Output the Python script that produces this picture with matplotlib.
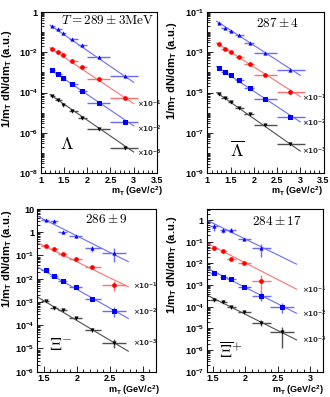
import numpy as np
import matplotlib
matplotlib.use("Agg")
import matplotlib.pyplot as plt
from matplotlib.ticker import FixedLocator, MultipleLocator, FuncFormatter, NullFormatter

plt.rcParams['font.family'] = ['Liberation Sans', 'DejaVu Sans']
plt.rcParams['font.weight'] = 'bold'
plt.rcParams['mathtext.fontset'] = 'custom'
plt.rcParams['mathtext.rm'] = 'Liberation Sans:bold'
plt.rcParams['mathtext.bf'] = 'Liberation Sans:bold'
plt.rcParams['mathtext.it'] = 'Liberation Sans:bold:italic'

# ---- Lambda ----
lam_mt = [1.24, 1.37, 1.49, 1.68, 1.89, 2.25, 2.81]
lam_lo = [1.2, 1.3, 1.45, 1.6, 1.8, 2.0, 2.5]
lam_hi = [1.3, 1.45, 1.55, 1.8, 2.0, 2.5, 3.1]
lam_a = [2.0e-1, 1.38e-1, 8.7e-2, 4.7e-2, 2.3e-2, 6.0e-3, 6.6e-4]
lam_b = [1.45e-2, 1.0e-2, 7.1e-3, 3.6e-3, 1.8e-3, 4.7e-4, 5.5e-5]
lam_c = [1.26e-3, 7.9e-4, 5.4e-4, 2.7e-4, 1.2e-4, 2.9e-5, 3.5e-6]
lam_d = [6.9e-5, 4.2e-5, 2.5e-5, 1.17e-5, 5.5e-6, 1.5e-6, 1.8e-7]
lam_err = [0.05, 0.05, 0.05, 0.06, 0.08, 0.1, 0.15]
lam_fit_mt = [1.2, 3.0]
lam_fit = [[2.24e-1, 3.2e-4], [1.66e-2, 2.8e-5], [1.41e-3, 2.2e-6], [7.9e-5, 1.1e-7]]

# ---- anti-Lambda ----
alam_mt = [1.25, 1.39, 1.5, 1.69, 1.92, 2.24, 2.78]
alam_lo = [1.2, 1.3, 1.45, 1.6, 1.8, 2.0, 2.5]
alam_hi = [1.3, 1.45, 1.55, 1.8, 2.0, 2.5, 3.1]
alam_a = [2.75e-2, 1.5e-2, 1.15e-2, 6.8e-3, 2.95e-3, 9.3e-4, 1.29e-4]
alam_b = [2.5e-3, 1.38e-3, 1.05e-3, 5.75e-4, 2.5e-4, 7.1e-5, 1.02e-5]
alam_c = [1.58e-4, 1.02e-4, 7.4e-5, 4.0e-5, 1.62e-5, 4.9e-6, 5.9e-7]
alam_d = [8.5e-6, 5.5e-6, 3.2e-6, 1.78e-6, 8.3e-7, 2.4e-7, 2.8e-8]
alam_err = [0.05, 0.05, 0.05, 0.06, 0.08, 0.1, 0.15]
alam_fit_mt = [1.2, 3.0]
alam_fit = [[3.4e-2, 7.1e-5], [2.8e-3, 6.3e-6], [1.9e-4, 3.5e-7], [1.0e-5, 1.26e-8]]

# ---- Xi- ----
xi_mt = [1.53, 1.65, 1.79, 1.98, 2.23, 2.56]
xi_lo = [1.45, 1.6, 1.72, 1.88, 2.12, 2.38]
xi_hi = [1.58, 1.72, 1.85, 2.08, 2.37, 2.75]
xi_a = [3.4, 2.95, 1.02, 0.71, 0.2, 0.13]
xi_b = [0.25, 0.19, 0.115, 0.069, 0.031, 5.5e-3]
xi_c = [2.3e-2, 1.26e-2, 7.9e-3, 4.4e-3, 1.35e-3, 4.0e-4]
xi_d = [1.12e-3, 5.75e-4, 4.5e-4, 2.1e-4, 6.5e-5, 1.74e-5]
xi_err = [[0.1, 0.1, 0.15, 0.1, 0.3, 0.6],
          [0.08, 0.08, 0.08, 0.08, 0.1, 0.45],
          [0.06, 0.06, 0.06, 0.06, 0.1, 0.45],
          [0.1, 0.1, 0.1, 0.1, 0.2, 0.4]]
xi_fit_mt = [1.4, 2.78]
xi_fit = [[5.0, 5.4e-2], [0.36, 4.5e-3], [3.2e-2, 1.95e-4], [1.66e-3, 7.6e-6]]

# ---- anti-Xi+ ----
axi_mt = [1.52, 1.66, 1.78, 1.98, 2.24, 2.57]
axi_lo = [1.45, 1.6, 1.72, 1.88, 2.1, 2.38]
axi_hi = [1.58, 1.72, 1.85, 2.08, 2.4, 2.75]
axi_a = [0.51, 0.34, 0.36, 0.135, 0.051]
axi_b = [5.1e-2, 3.6e-2, 1.58e-2, 1.05e-2, 1.58e-3]
axi_c = [3.8e-3, 2.35e-3, 1.95e-3, 8.1e-4, 3.3e-4, 1.02e-4]
axi_d = [1.95e-4, 1.74e-4, 9.5e-5, 5.6e-5, 1.86e-5, 6.5e-6]
axi_err = [[0.35, 0.25, 0.25, 0.12, 0.6],
           [0.15, 0.12, 0.2, 0.15, 0.85],
           [0.1, 0.08, 0.1, 0.1, 0.45, 0.5],
           [0.1, 0.15, 0.15, 0.1, 0.3, 0.8]]
axi_fit_mt = [1.4, 2.79]
axi_fit = [[1.0, 9.3e-3], [8.7e-2, 6.5e-4], [6.2e-3, 5.0e-5], [3.5e-4, 2.95e-6]]

temps = [r'$T = 289 \pm 3\mathrm{MeV}$', r'$287 \pm 4$', r'$286 \pm 9$', r'$284 \pm 17$']
names = [r'$\Lambda$', r'$\overline{\Lambda}$', r'$\Xi^{-}$', r'$\overline{\Xi}^{+}$']
scales = [r'$\times10^{-1}$', r'$\times10^{-2}$', r'$\times10^{-3}$']

styles = [('^', '#0000ff', '#6a6aff', 3.0),
          ('o', '#ff0000', '#ff7070', 3.4),
          ('s', '#0000ff', '#6a6aff', 3.6),
          ('v', '#000000', '#505050', 3.0)]


def dec_label(v, pos):
    e = int(round(np.log10(v)))
    if e == 0:
        return '1'
    if e == 1:
        return '10'
    return r'$10^{%d}$' % e


def draw(ax, mt, lo, hi, ys, errs, fit_mt, fits, xlim, ylim, ymaj, xmaj,
         temp, temp_xy, name, name_xy, scale_x, scale_y):
    mt = np.array(mt)
    for i, (y, (m, c, ec, ms)) in enumerate(zip(ys, styles)):
        n = len(y)
        y = np.array(y)
        e = np.array(errs[i] if isinstance(errs[0], list) else errs)[:n]
        x = mt[:n]
        ax.errorbar(x, y, xerr=[x - np.array(lo[:n]), np.array(hi[:n]) - x],
                    yerr=[y * e, y * e], fmt=m, color=c, ecolor=ec,
                    elinewidth=1.0, capsize=0, ms=ms, mew=0, zorder=3)
        ax.plot(fit_mt, fits[i], '-', color=ec, lw=0.8, zorder=2)
    ax.set_yscale('log')
    ax.set_xlim(*xlim)
    ax.set_ylim(*ylim)
    ax.yaxis.set_major_locator(FixedLocator(ymaj))
    ax.yaxis.set_major_formatter(FuncFormatter(dec_label))
    ax.yaxis.set_minor_locator(FixedLocator(
        [10.0 ** k * s for k in range(-10, 2) for s in range(1, 10)]))
    ax.yaxis.set_minor_formatter(NullFormatter())
    ax.xaxis.set_major_locator(FixedLocator(xmaj))
    ax.xaxis.set_major_formatter(FuncFormatter(lambda v, p: ('%g' % v)))
    ax.xaxis.set_minor_locator(MultipleLocator(0.1))
    ax.tick_params(which='both', direction='in', top=False, right=False,
                   labelsize=6.5, width=0.6, pad=2)
    ax.tick_params(which='major', length=4)
    ax.tick_params(which='minor', length=2)
    for sp in ax.spines.values():
        sp.set_linewidth(0.8)
    ax.text(temp_xy[0], temp_xy[1], temp, transform=ax.transAxes,
            ha='center', va='center', fontsize=9.5, math_fontfamily='cm')
    ax.text(name_xy[0], name_xy[1], name, ha='center', va='center',
            fontsize=13, math_fontfamily='cm')
    for s, yy in zip(scales, scale_y):
        ax.text(scale_x, yy, s, ha='left', va='center', fontsize=5,
                fontweight='normal', color='#333333', math_fontfamily='dejavusans')


fig = plt.figure(figsize=(3.3, 3.97), dpi=100)
W, H = 330.0, 397.0


def rect(l, t, r, b):
    return [l / W, 1 - b / H, (r - l) / W, (b - t) / H]


ax1 = fig.add_axes(rect(40.7, 12, 157, 173))
ax2 = fig.add_axes(rect(207.3, 11.7, 323.5, 173.3))
ax3 = fig.add_axes(rect(37.3, 209, 156, 371.7))
ax4 = fig.add_axes(rect(206.7, 209.3, 323, 371.7))

draw(ax1, lam_mt, lam_lo, lam_hi, [lam_a, lam_b, lam_c, lam_d], lam_err,
     lam_fit_mt, lam_fit, (1, 3.5), (1e-8, 1),
     [1e-8, 1e-6, 1e-4, 1e-2, 1], [1, 1.5, 2, 2.5, 3, 3.5],
     temps[0], (0.573, 0.95), names[0], (1.56, 10 ** -6.6),
     3.06, [10 ** -4.58, 10 ** -5.82, 10 ** -7.03])
draw(ax2, alam_mt, alam_lo, alam_hi, [alam_a, alam_b, alam_c, alam_d], alam_err,
     alam_fit_mt, alam_fit, (1, 3.5), (1e-9, 1e-1),
     [1e-9, 1e-7, 1e-5, 1e-3, 1e-1], [1, 1.5, 2, 2.5, 3, 3.5],
     temps[1], (0.6, 0.928), names[1], (1.65, 10 ** -7.85),
     3.03, [10 ** -5.28, 10 ** -6.52, 10 ** -7.9])
draw(ax3, xi_mt, xi_lo, xi_hi, [xi_a, xi_b, xi_c, xi_d], xi_err,
     xi_fit_mt, xi_fit, (1.4, 3.2), (1e-6, 10),
     [10.0 ** k for k in range(-6, 2)], [1.5, 2, 2.5, 3],
     temps[2], (0.585, 0.937), names[2], (1.76, 10 ** -4.87),
     2.85, [10 ** -2.32, 10 ** -3.43, 10 ** -4.79])
draw(ax4, axi_mt, axi_lo, axi_hi, [axi_a, axi_b, axi_c, axi_d], axi_err,
     axi_fit_mt, axi_fit, (1.4, 3.2), (1e-7, 10 ** 0.5),
     [10.0 ** k for k in range(-7, 1)], [1.5, 2, 2.5, 3],
     temps[3], (0.6, 0.924), names[3], (1.78, 10 ** -6.07),
     2.87, [10 ** -3.22, 10 ** -4.37, 10 ** -5.53])

ylab = r'1/m$_\mathrm{T}$ dN/dm$_\mathrm{T}$ (a.u.)'
xlab = r'm$_\mathrm{T}$ (GeV/c$^2$)'
for x, y in [(7, 30), (172, 22), (7, 210), (172, 216)]:
    fig.text(x / W, 1 - y / H, ylab, rotation=90, ha='center', va='top', fontsize=8)
for x, y in [(163, 191), (323, 191), (160, 390), (324, 390)]:
    fig.text(x / W, 1 - y / H, xlab, ha='right', va='center', fontsize=6.5)

fig.savefig('out.png', dpi=100)
